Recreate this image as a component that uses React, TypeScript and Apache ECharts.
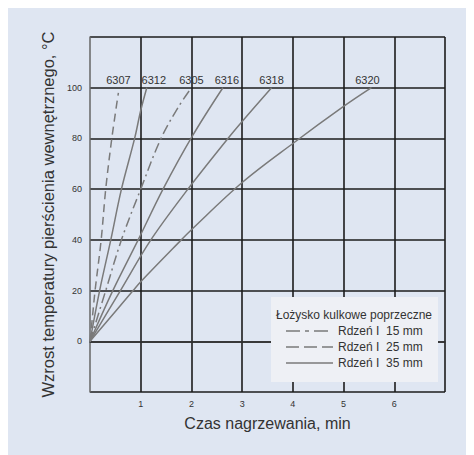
import React, { useEffect, useRef } from "react";
import * as echarts from "echarts";

// Heating time (min) vs inner ring temperature rise (°C), one list per bearing
const s6307: number[][] = [[0, 0], [0.05, 10], [0.1, 20], [0.22, 40], [0.31, 60], [0.43, 80], [0.56, 98]];
const s6312: number[][] = [[0, 0], [0.19, 20], [0.41, 40], [0.62, 60], [0.88, 80], [1.0, 91], [1.12, 100]];
const s6305: number[][] = [[0, 0], [0.31, 20], [0.62, 40], [1.0, 60], [1.4, 80], [1.74, 92.3], [2.0, 100]];
const s6316: number[][] = [[0, 0], [0.45, 20], [0.95, 40], [1.44, 60], [2.02, 81], [2.62, 100]];
const s6318: number[][] = [[0, 0], [0.6, 20], [1.2, 40], [1.93, 60], [2.72, 80], [3.0, 86.7], [3.58, 100]];
const s6320: number[][] = [[0, 0], [0.85, 20], [1.0, 23.5], [1.8, 40], [2.0, 44], [3.0, 62.6], [4.0, 78], [5.0, 92.6], [5.55, 100]];

const bearingNames = ["6307", "6312", "6305", "6316", "6318", "6320"];
const bearingData = [s6307, s6312, s6305, s6316, s6318, s6320];
// core diameter used for each bearing: 15, 25 or 35 mm
const bearingCore = [25, 35, 15, 35, 35, 35];

const legendTitle = "Łożysko kulkowe poprzeczne";
const legendCores = [15, 25, 35];
const legendLabels = ["Rdzeń I  15 mm", "Rdzeń I  25 mm", "Rdzeń I  35 mm"];

const xTicks = ["1", "2", "3", "4", "5", "6"];
const yTicks = ["0", "20", "40", "60", "80", "100"];

const lineGray = "#7a7a7a";
const fontFamily = "Liberation Sans, Arial, sans-serif";
const dashFor: Record<number, any> = {
  15: [10, 4, 2, 4],
  25: [8, 5],
  35: "solid",
};
const legendDashFor: Record<number, any> = {
  15: [14, 5, 4, 5],
  25: [13, 5],
  35: "solid",
};
// nudges for the bearing labels above each curve end: [dx, dy]
const labelNudge: Record<string, number[]> = {
  "6307": [0, -5],
  "6312": [7, 0],
  "6305": [0, 0],
  "6316": [4, 0],
  "6318": [0, 0],
  "6320": [-4, 0],
};

export default function App() {
  const ref = useRef<HTMLDivElement>(null);

  useEffect(() => {
    if (!ref.current) return;
    const chart = echarts.init(ref.current, null, { renderer: "svg" });

    const series: any[] = bearingNames.map((name, i) => {
      const nudge = labelNudge[name];
      return {
        type: "line",
        name,
        data: bearingData[i],
        smooth: 0.35,
        showSymbol: false,
        symbol: "none",
        z: 5,
        lineStyle: { color: lineGray, width: 1.5, type: dashFor[bearingCore[i]] },
        endLabel: {
          show: true,
          formatter: name,
          distance: 0,
          align: "center",
          verticalAlign: "bottom",
          offset: [nudge[0], nudge[1] - 2],
          fontSize: 11,
          color: "#333",
          fontFamily,
        },
      };
    });

    const lx0 = 278;
    const lx1 = 325;
    const rows = [323, 339, 355];
    const legendGraphics: any[] = [
      {
        type: "rect",
        shape: { x: 263, y: 289, width: 167, height: 85 },
        style: { fill: "#eef0f5" },
        z: 10,
      },
      {
        type: "text",
        x: 346,
        y: 307,
        style: {
          text: legendTitle,
          fontSize: 12,
          fill: "#333",
          align: "center",
          verticalAlign: "middle",
          fontFamily,
        },
        z: 11,
      },
    ];
    legendCores.forEach((c, i) => {
      legendGraphics.push({
        type: "line",
        shape: { x1: lx0, y1: rows[i], x2: lx1, y2: rows[i] },
        style: { stroke: lineGray, lineWidth: 1.5, lineDash: legendDashFor[c] === "solid" ? null : legendDashFor[c] },
        z: 11,
      });
      legendGraphics.push({
        type: "text",
        x: 330,
        y: rows[i],
        style: {
          text: legendLabels[i],
          fontSize: 12,
          fill: "#333",
          align: "left",
          verticalAlign: "middle",
          fontFamily,
        },
        z: 11,
      });
    });

    chart.setOption({
      animation: false,
      backgroundColor: "#dfe6f2",
      textStyle: { fontFamily },
      grid: { left: 82, right: 29, top: 29, bottom: 63, containLabel: false },
      xAxis: {
        type: "value",
        min: 0,
        max: 7,
        interval: 1,
        name: "Czas nagrzewania, min",
        nameLocation: "middle",
        nameGap: 23,
        nameTextStyle: { fontSize: 16, color: "#333" },
        axisLine: { show: true, lineStyle: { color: "#333", width: 1.5 } },
        axisTick: { show: false },
        axisLabel: {
          fontSize: 9,
          color: "#333",
          margin: 7,
          formatter: (v: number) => (xTicks.includes(String(v)) ? String(v) : ""),
        },
        splitLine: { show: true, showMinLine: false, lineStyle: { color: "#1c1c1c", width: 1.6 } },
      },
      yAxis: {
        type: "value",
        min: -20,
        max: 120,
        interval: 20,
        name: "Wzrost temperatury pierścienia wewnętrznego, °C",
        nameLocation: "middle",
        nameGap: 29,
        nameTextStyle: { fontSize: 16.5, color: "#333" },
        axisLine: { show: true, lineStyle: { color: "#666", width: 1.5 } },
        axisTick: { show: false },
        axisLabel: {
          fontSize: 9,
          color: "#333",
          margin: 8,
          formatter: (v: number) => (yTicks.includes(String(v)) ? String(v) : ""),
        },
        splitLine: { show: true, lineStyle: { color: "#1c1c1c", width: 1.6 } },
      },
      series,
      graphic: legendGraphics,
    });

    return () => chart.dispose();
  }, []);

  return <div ref={ref} style={{ width: 466, height: 447 }} />;
}
